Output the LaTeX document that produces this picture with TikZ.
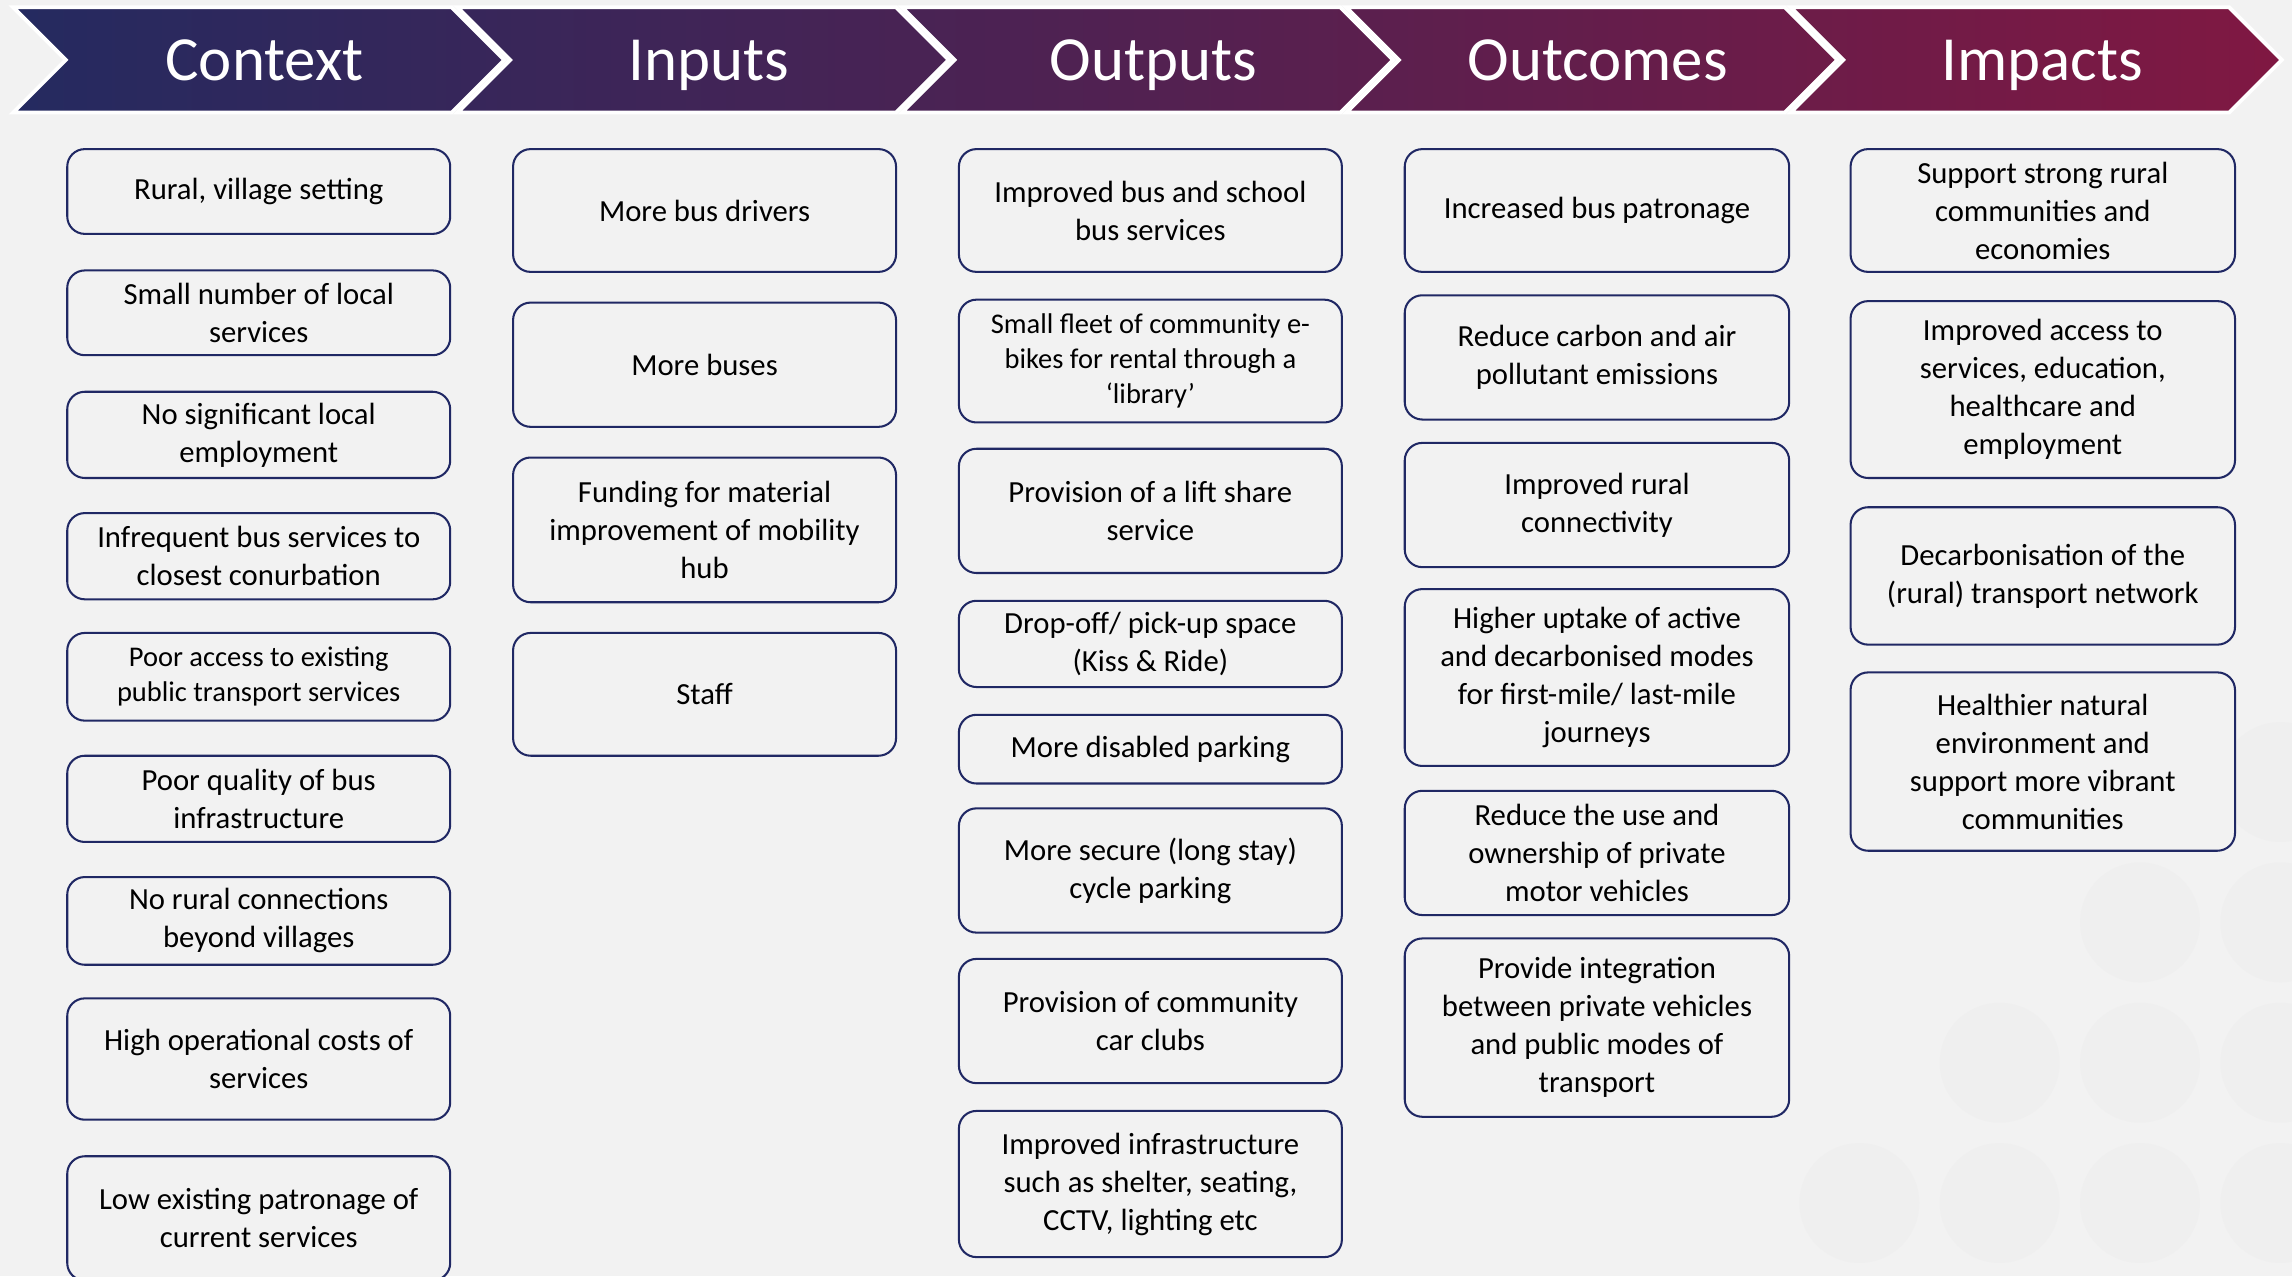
\documentclass[tikz,border=0pt]{standalone}
\usepackage{fontspec}
\setmainfont{Carlito}
\definecolor{bg}{RGB}{242,242,242}
\definecolor{navy}{RGB}{32,40,100}
\definecolor{hdA}{RGB}{36,42,96}
\definecolor{hdB}{RGB}{128,24,66}
\definecolor{wm}{RGB}{239,239,239}
\newcommand\myBox[7][]{\node[cbox,#1,minimum width={(#5-#3)*1pt},minimum height={(#6-#4)*1pt}] (#2) at ({(#3+#5)/2},{(#4+#6)/2}) {#7};}
\begin{document}
\begin{tikzpicture}[x=1pt,y=-1pt,
  cbox/.style={draw=navy, line width=1.4pt, rounded corners=12pt, fill=bg, align=center, inner sep=0pt, font=\fontsize{21}{26}\selectfont, text=black},
  small/.style={font=\fontsize{19.5}{24}\selectfont},
  head/.style={text=white, font=\fontsize{43}{50}\selectfont, inner sep=0pt, anchor=base}]
\fill[bg] (0,0) rectangle (1568,873);
\useasboundingbox (0,0) rectangle (1568,873);
% watermark
\foreach \cx/\cy in {1560/535,1464/631,1560/631,1368/727,1464/727,1560/727,1272/823,1368/823,1464/823,1560/823}
  \fill[wm] (\cx,\cy) circle (41);
% header band
\begin{scope}
\clip \foreach \xl in {9,313,617,921,1225} { (\xl,5) -- (\xl+300,5) -- (\xl+336,41) -- (\xl+300,77) -- (\xl,77) -- (\xl+36,41) -- cycle };
\shade[left color=hdA, right color=hdB] (0,0) rectangle (1568,82);
\end{scope}
\foreach \xl in {9,313,617,921,1225}
  \draw[white, line width=2.6pt, line join=miter] (\xl,5) -- (\xl+300,5) -- (\xl+336,41) -- (\xl+300,77) -- (\xl,77) -- (\xl+36,41) -- cycle;
\node[head] (hctx) at (181,55) {Context};
\node[head] (hinp) at (485,55) {Inputs};
\node[head] (hout) at (789,55) {Outputs};
\node[head] (hocm) at (1093,55) {Outcomes};
\node[head] (himp) at (1397,55) {Impacts};
% Context
\myBox{c1}{46}{102}{308}{160}{Rural, village setting}
\myBox{c2}{46}{185}{308}{243}{Small number of local\\services}
\myBox{c3}{46}{268}{308}{327}{No significant local\\employment}
\myBox{c4}{46}{351}{308}{410}{Infrequent bus services to\\closest conurbation}
\myBox[small]{c5}{46}{433}{308}{493}{Poor access to existing\\public transport services}
\myBox{c6}{46}{517}{308}{576}{Poor quality of bus\\infrastructure}
\myBox{c7}{46}{600}{308}{660}{No rural connections\\beyond villages}
\myBox{c8}{46}{683}{308}{766}{High operational costs of\\services}
\myBox{c9}{46}{791}{308}{876}{Low existing patronage of\\current services}
% Inputs
\myBox{i1}{351}{102}{613}{186}{More bus drivers}
\myBox{i2}{351}{207}{613}{292}{More buses}
\myBox{i3}{351}{313}{613}{412}{Funding for material\\improvement of mobility\\hub}
\myBox{i4}{351}{433}{613}{517}{Staff}
% Outputs
\myBox{o1}{656}{102}{918}{186}{Improved bus and school\\bus services}
\myBox[small]{o2}{656}{205}{918}{289}{Small fleet of community e-\\bikes for rental through a\\‘library’}
\myBox{o3}{656}{307}{918}{392}{Provision of a lift share\\service}
\myBox{o4}{656}{411}{918}{470}{Drop-off/ pick-up space\\(Kiss \& Ride)}
\myBox{o5}{656}{489}{918}{536}{More disabled parking}
\myBox{o6}{656}{553}{918}{638}{More secure (long stay)\\cycle parking}
\myBox{o7}{656}{656}{918}{741}{Provision of community\\car clubs}
\myBox{o8}{656}{760}{918}{860}{Improved infrastructure\\such as shelter, seating,\\CCTV, lighting etc}
% Outcomes
\myBox{u1}{961}{102}{1224}{186}{Increased bus patronage}
\myBox{u2}{961}{202}{1224}{287}{Reduce carbon and air\\pollutant emissions}
\myBox{u3}{961}{303}{1224}{388}{Improved rural\\connectivity}
\myBox{u4}{961}{403}{1224}{524}{Higher uptake of active\\and decarbonised modes\\for first-mile/ last-mile\\journeys}
\myBox{u5}{961}{541}{1224}{626}{Reduce the use and\\ownership of private\\motor vehicles}
\myBox{u6}{961}{642}{1224}{764}{Provide integration\\between private vehicles\\and public modes of\\transport}
% Impacts
\myBox{m1}{1266}{102}{1529}{186}{Support strong rural\\communities and\\economies}
\myBox{m2}{1266}{206}{1529}{327}{Improved access to\\services, education,\\healthcare and\\employment}
\myBox{m3}{1266}{347}{1529}{441}{Decarbonisation of the\\(rural) transport network}
\myBox{m4}{1266}{460}{1529}{582}{Healthier natural\\environment and\\support more vibrant\\communities}
\end{tikzpicture}
\end{document}
